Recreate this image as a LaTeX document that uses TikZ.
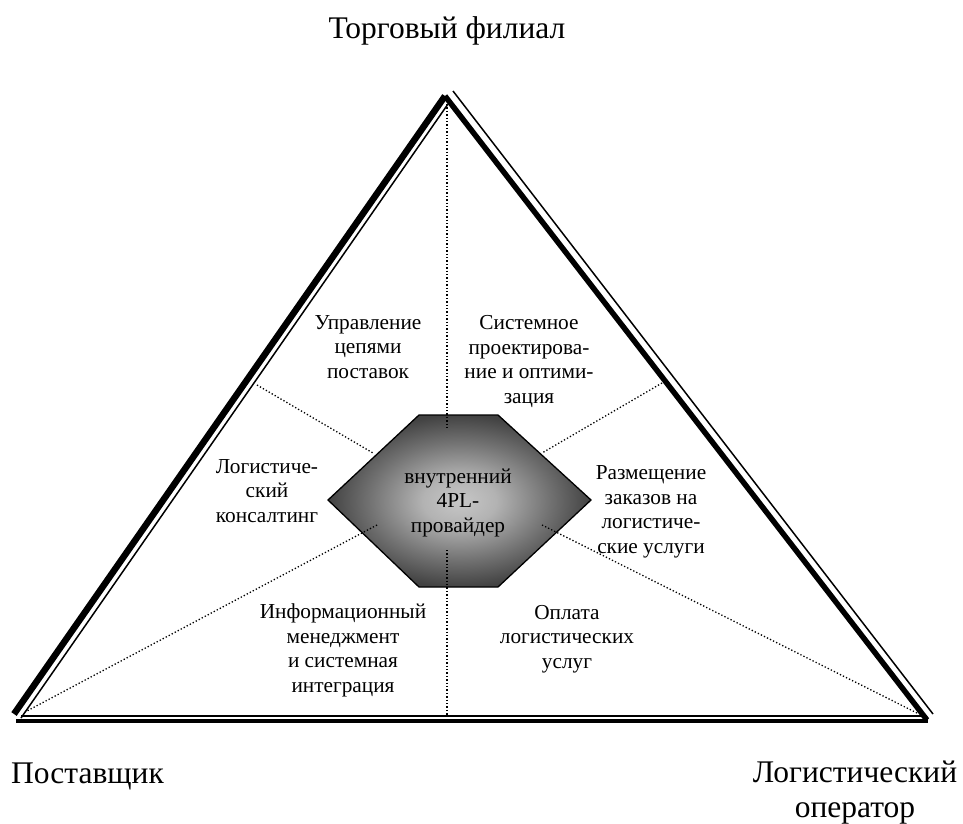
\documentclass[tikz,border=0pt]{standalone}
\usepackage{fontspec}
\setmainfont{Liberation Serif}
% soft glow for the central hexagon: light core fading to dark gray
\pgfdeclareradialshading{hexglow}{\pgfpoint{0bp}{0bp}}{%
  color(0bp)=(black!22); color(7bp)=(black!30); color(17bp)=(black!55);
  color(25bp)=(black!74); color(50bp)=(black!74)}
\begin{document}
\begin{tikzpicture}[x=1pt,y=-1pt,
  lbl/.style={align=center,anchor=base,inner sep=0pt,font=\fontsize{21.3}{24.5}\selectfont},
  corner/.style={anchor=base,inner sep=0pt,font=\fontsize{31.5}{35}\selectfont},
  thickedge/.style={line width=#1,line cap=butt,line join=miter},
  thinedge/.style={line width=1.5,line cap=butt},
  sector/.style={line width=1.3,dash pattern=on 1.3 off 2.1}
]
\useasboundingbox (0,0) rectangle (963,823);

% corners of the triangle (thick and thin strokes)
\coordinate (tA) at (445,96);
\coordinate (tL) at (14,714);
\coordinate (tR) at (927,720);
\coordinate (iA) at (448,104);
\coordinate (iL) at (21,718);
\coordinate (oA) at (453,91);
\coordinate (oR) at (933,714);

% left side: thick outside, thin inside
\draw[thickedge=6.5] (tL) -- (tA);
\draw[thinedge] (iL) -- (iA);
% right side: thick inside, thin outside
\draw[thickedge=5.5] (tA) -- (tR);
\draw[thinedge] (oA) -- (oR);
% base: thin above, thick below
\draw[thickedge=4] (16,721) coordinate (bL) -- (928,721) coordinate (bR);
\draw[thinedge] (21,716) coordinate (sL) -- (921,716) coordinate (sR);

% central hexagon
\coordinate (h1) at (419,415);
\coordinate (h2) at (498,415);
\coordinate (h3) at (591,500);
\coordinate (h4) at (498,587);
\coordinate (h5) at (419,587);
\coordinate (h6) at (328,500);
\draw[line width=1.3,shading=hexglow]
  (h1) -- (h2) -- (h3) -- (h4) -- (h5) -- (h6) -- cycle;

% dotted sector boundaries
\coordinate (d1a) at (447,104);  \coordinate (d1b) at (447,430);
\coordinate (d2a) at (447,550);  \coordinate (d2b) at (447,716);
\coordinate (d3a) at (257,385);  \coordinate (d3b) at (373,453);
\coordinate (d4a) at (662,383);  \coordinate (d4b) at (542,453);
\coordinate (d5a) at (377,525);  \coordinate (d5b) at (25,712);
\coordinate (d6a) at (542,525);  \coordinate (d6b) at (917,713);
\draw[sector] (d1a) -- (d1b);
\draw[sector] (d2a) -- (d2b);
\draw[sector] (d3a) -- (d3b);
\draw[sector] (d4a) -- (d4b);
\draw[sector] (d5a) -- (d5b);
\draw[sector] (d6a) -- (d6b);

% vertex labels (anchor at the baseline of the last line)
\node[corner] (top) at (447,38) {Торговый филиал};
\node[corner,anchor=base west] (sup) at (11,783) {Поставщик};
\node[corner,align=center] (op) at (855,817) {Логистический\\оператор};

% sector labels
\node[lbl] (s1) at (368,378) {Управление\\цепями\\поставок};
\node[lbl] (s2) at (529,403) {Системное\\проектирова-\\ние и оптими-\\зация};
\node[lbl] (s3) at (267,522) {Логистиче-\\ский\\консалтинг};
\node[lbl] (s4) at (651,553) {Размещение\\заказов на\\логистиче-\\ские услуги};
\node[lbl] (s5) at (343,692) {Информационный\\менеджмент\\и системная\\интеграция};
\node[lbl] (s6) at (567,668) {Оплата\\логистических\\услуг};
\node[lbl] (core) at (458,532) {внутренний\\4PL-\\провайдер};
\end{tikzpicture}
\end{document}
